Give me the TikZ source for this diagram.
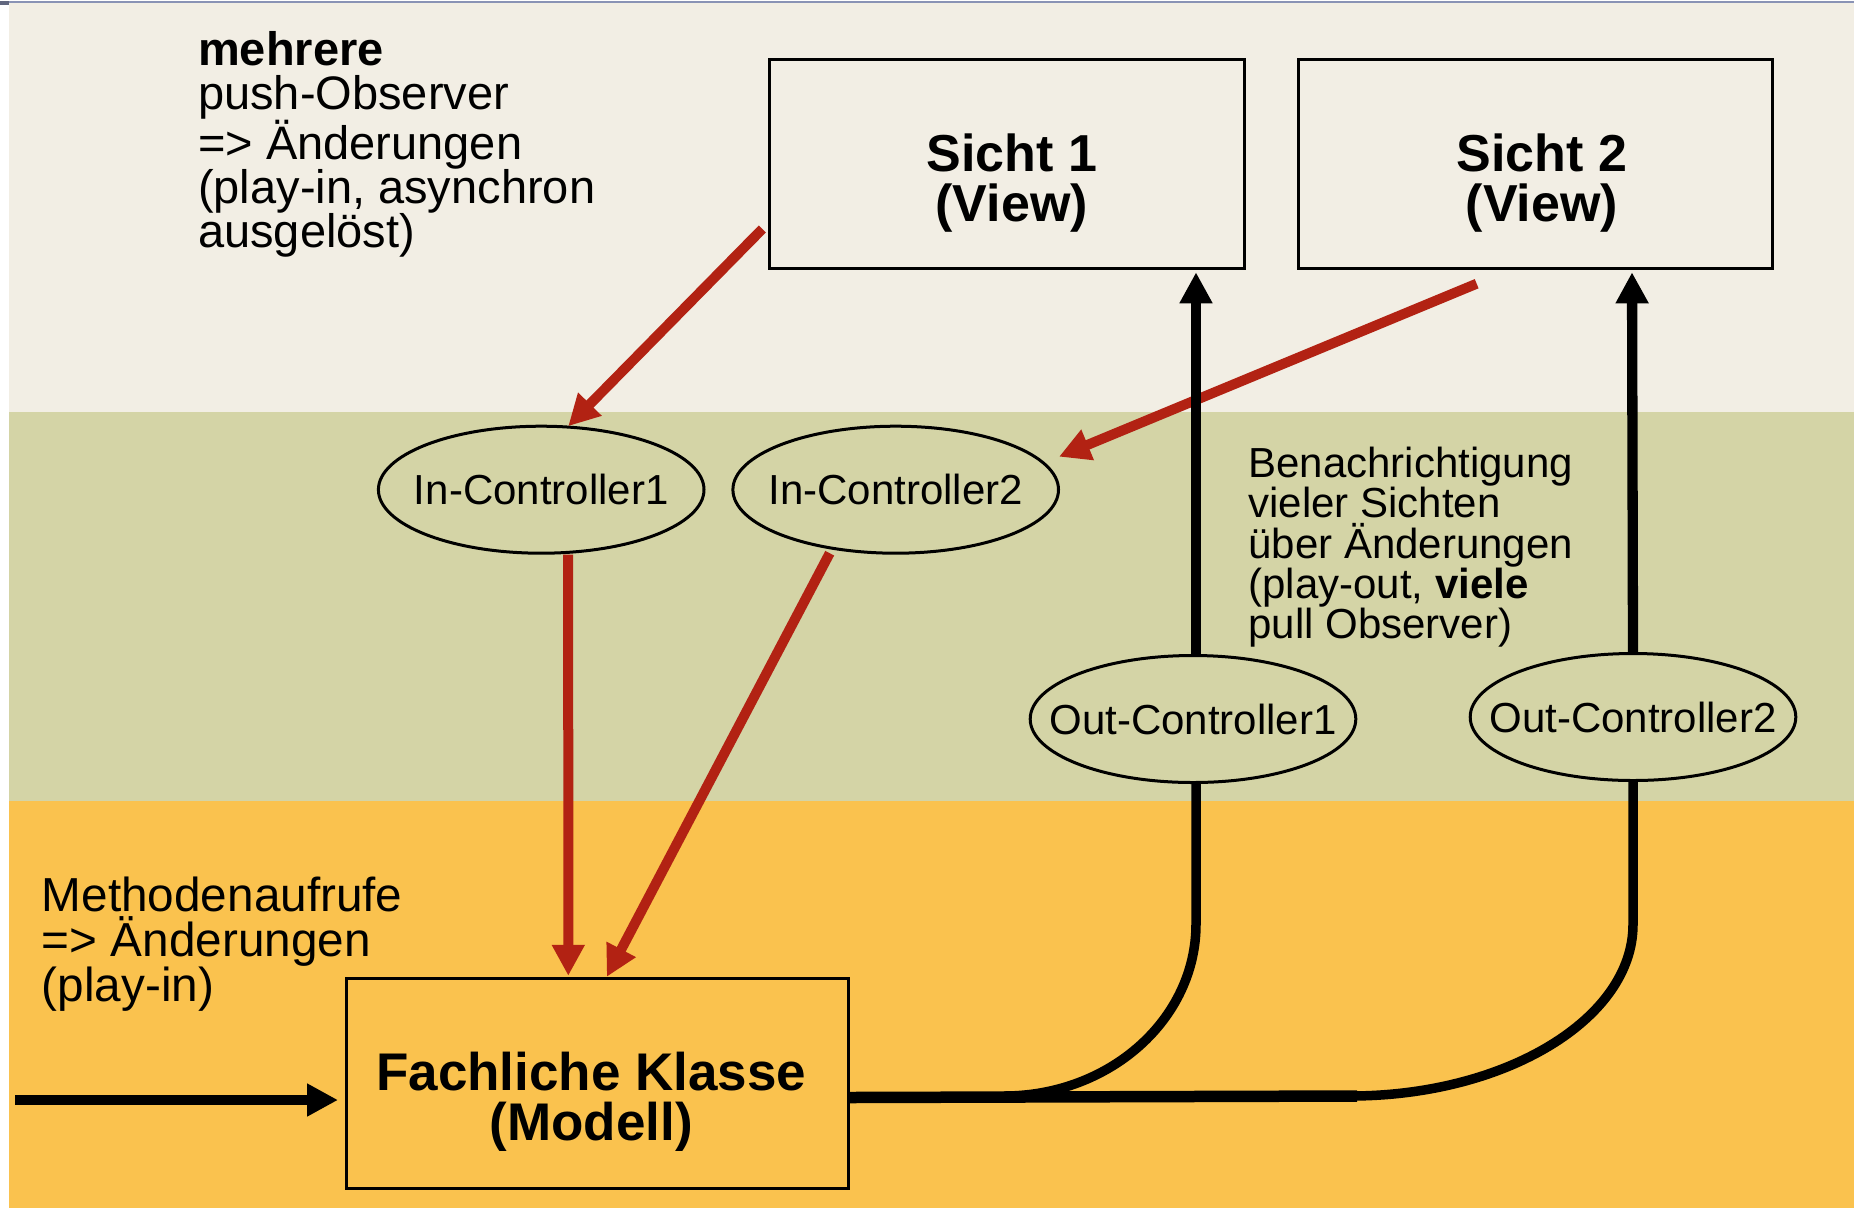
\documentclass[tikz,border=0pt]{standalone}
\usepackage{fontspec}
\setmainfont{Liberation Sans}
\usetikzlibrary{arrows.meta,calc,shapes.geometric}
\definecolor{bgbeige}{HTML}{F2EEE4}
\definecolor{bggreen}{HTML}{D4D4A6}
\definecolor{bgorange}{HTML}{FAC24E}
\definecolor{arrred}{HTML}{B22213}
\definecolor{topline}{HTML}{8A93B5}
\begin{document}
\begin{tikzpicture}[x=1pt,y=-1pt,
  boxnode/.style={draw=black, line width=3pt, rectangle, inner sep=0pt, anchor=north west},
  ctrl/.style={draw=black, line width=3pt, ellipse, inner sep=0pt, minimum width=325.6pt, minimum height=127pt, font=\fontsize{42}{48}\selectfont},
  freetext/.style={inner sep=0pt, anchor=base west},
  boxtext/.style={inner sep=0pt, anchor=base},
  redarrow/.style={draw=arrred, line width=10pt, -{Triangle[length=31pt,width=31pt]}},
  blackarrow/.style={draw=black, line width=10.3pt, -{Triangle[length=31pt,width=31pt]}},
  busline/.style={draw=black, line width=9.5pt}
]
\useasboundingbox (0,0) rectangle (1854,1208);
% background bands
\fill[white] (0,0) rectangle (1854,1208);
\fill[bgbeige] (9,3) rectangle (1854,412);
\fill[bggreen] (9,412) rectangle (1854,801);
\fill[bgorange] (9,801) rectangle (1854,1208);
\fill[topline] (0,1.2) rectangle (1854,3);
\fill[topline!70!black] (0,1) rectangle (9,5);

% boxes
\node[boxnode, minimum width=474.4pt, minimum height=208.4pt] (s1) at (768.3,58.3) {};
\node[boxnode, minimum width=473.7pt, minimum height=208.4pt] (s2) at (1297.3,58.3) {};
\node[boxnode, minimum width=501.7pt, minimum height=209.4pt] (fk) at (345,977.3) {};

\node[boxtext] (s1t) at (1011.7,171) {\parbox[t]{400pt}{\centering\bfseries\fontsize{52}{50}\selectfont Sicht 1\\(View)}};
\node[boxtext] (s2t) at (1542,171) {\parbox[t]{400pt}{\centering\bfseries\fontsize{52}{50}\selectfont Sicht 2\\(View)}};
\node[boxtext] (fkt) at (591.3,1090) {\parbox[t]{480pt}{\centering\bfseries\fontsize{53}{50}\selectfont Fachliche Klasse\\(Modell)}};

% controllers
\node[ctrl] (ic1) at (541.2,489.7) {\makebox[0pt][c]{In-Controller1}};
\node[ctrl] (ic2) at (895.7,489.7) {\makebox[0pt][c]{In-Controller2}};
\node[ctrl] (oc1) at (1193,719) {\makebox[0pt][c]{Out-Controller1}};
\node[ctrl] (oc2) at (1633,717) {\makebox[0pt][c]{Out-Controller2}};

% free texts
\node[freetext] (tpush) at (198,65) {\parbox[t]{420pt}{\raggedright\fontsize{47}{44.2}\selectfont\textbf{mehrere}\\push-Observer\\=> Änderungen\\(play-in, asynchron\\ausgelöst)}};
\node[freetext] (tbenach) at (1248.3,477.7) {\parbox[t]{420pt}{\raggedright\fontsize{42}{40.2}\selectfont Benachrichtigung\\vieler Sichten\\über Änderungen\\(play-out, \textbf{viele}\\pull Observer)}};
\node[freetext] (tmeth) at (41.7,911.7) {\parbox[t]{420pt}{\raggedright\fontsize{47.7}{45}\selectfont Methodenaufrufe\\=> Änderungen\\(play-in)}};

% red arrows (play-in)
\draw[redarrow] ($(s1.south west)+(-6,-40.7)$) -- ($(ic1.center)+(27,-63.5)$);
\draw[redarrow] ($(s2.south)+(-59,14)$) -- ($(ic2.center)+(163.3,-33)$);
\draw[redarrow] ($(ic1.south)+(27,0)$) -- ($(fk.north west)+(223.3,-1.5)$);
\draw[redarrow] ($(ic2.center)+(-66,63.5)$) -- ($(fk.north west)+(261.8,-0.5)$);

% black arrows (play-out)
\draw[blackarrow] ($(oc1.north)+(3,0)$) -- ($(s1.south west)+(427.7,2.6)$);
\draw[blackarrow] (oc2.north) -- ($(s2.south west)+(334.7,2.6)$);

% input arrow
\coordinate (in) at (15,1100);
\draw[blackarrow, line width=10.7pt] (in) -- ($(fk.west |- in)+(-7,0)$);

% bus from model to out-controllers
\coordinate (m1) at (1004,1096);
\coordinate (m2) at (1350,1096);
\draw[busline, line width=11.5pt] ($(fk.east)+(0,14)$) -- ($(m2)+(7,0)$);
\draw[busline] ($(oc1.south)+(3,0)$) -- ++(0,140) .. controls ++(0,95) and ($(m1)+(106,0)$) .. (m1);
\draw[busline] (oc2.south) -- ++(0,142.5) .. controls ++(0,94) and ($(m2)+(156,0)$) .. (m2);
\end{tikzpicture}
\end{document}
